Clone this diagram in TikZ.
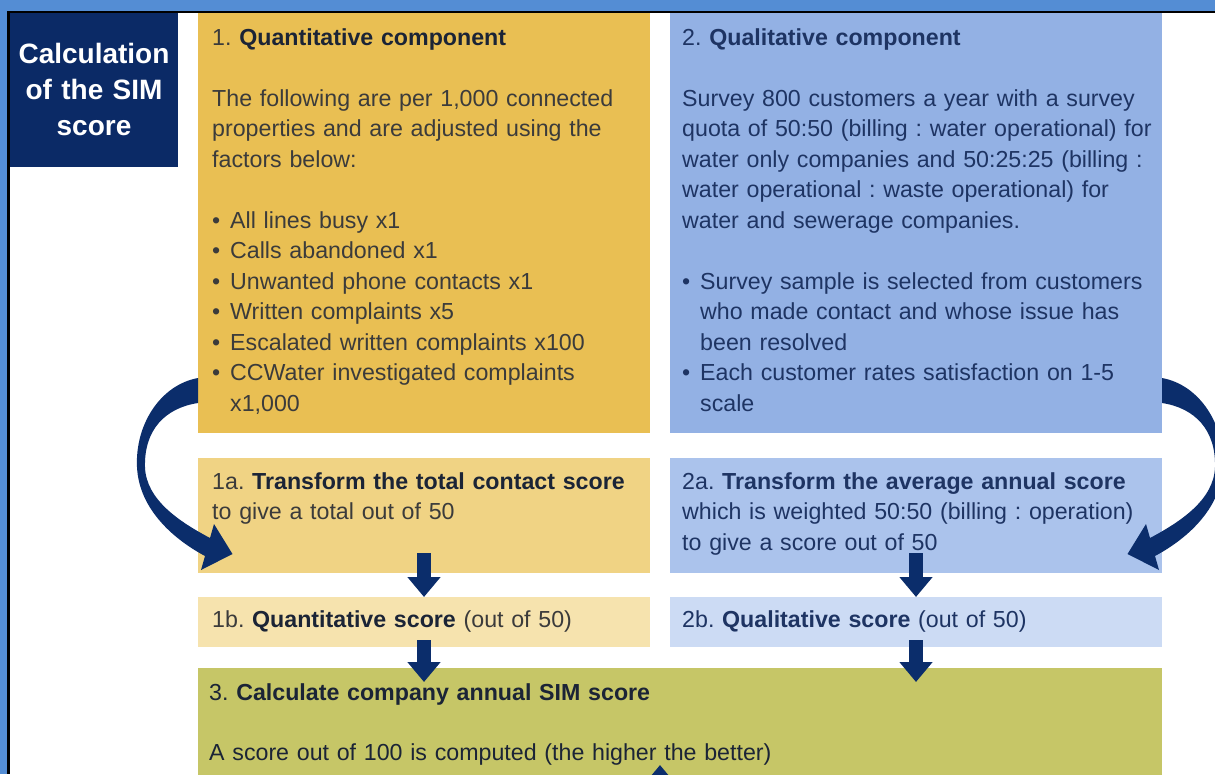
\documentclass[tikz,border=0pt]{standalone}
\usepackage{fontspec}
\setmainfont{Liberation Sans}
\usetikzlibrary{arrows.meta}
\definecolor{frameblue}{RGB}{84,141,212}
\definecolor{navy}{RGB}{11,42,102}
\definecolor{arrowc}{RGB}{11,45,107}
\definecolor{goldA}{RGB}{233,191,83}
\definecolor{goldB}{RGB}{240,211,132}
\definecolor{goldC}{RGB}{246,227,174}
\definecolor{blueA}{RGB}{147,177,228}
\definecolor{blueB}{RGB}{171,195,236}
\definecolor{blueC}{RGB}{204,219,244}
\definecolor{olive}{RGB}{198,198,103}
\definecolor{graytext}{RGB}{59,59,59}
\definecolor{darkhead}{RGB}{27,36,54}
\definecolor{bluetext}{RGB}{30,52,99}
\newcommand\bul{\makebox[18pt][l]{•}}
\begin{document}
\begin{tikzpicture}[x=1pt,y=-1pt,
  box/.style={anchor=north west, inner sep=0pt, outer sep=0pt, draw=none},
  txt/.style={anchor=base west, inner sep=0pt, align=left, text width=500pt,
    font=\fontsize{23.2}{30.5}\selectfont\frenchspacing},
  blockarr/.style={draw=arrowc, line width=14pt, -{Triangle[width=32pt,length=20pt]}}]
\useasboundingbox (0,0) rectangle (1215,774);
\clip (0,0) rectangle (1215,774);
\fill[white] (0,0) rectangle (1215,774);
% frame
\fill[frameblue] (0,0) rectangle (1215,11);
\fill[frameblue] (0,0) rectangle (7,774);
\fill[black] (7,11) rectangle (1215,13);
\fill[black] (7,11) rectangle (10,774);
% title
\node[box, fill=navy, minimum width=168pt, minimum height=154pt] (title) at (10,13) {};
\node[anchor=base, inner sep=0pt, text width=165pt, align=center, text=white,
  font=\fontsize{28}{36}\selectfont\bfseries] (titletext) at (94,63)
  {Calculation\\of the SIM\\score};
% boxes
\node[box, fill=goldA, minimum width=452pt, minimum height=420pt] (b1) at (198,13) {};
\node[box, fill=blueA, minimum width=492pt, minimum height=420pt] (b2) at (670,13) {};
\node[box, fill=goldB, minimum width=452pt, minimum height=115pt] (b1a) at (198,458) {};
\node[box, fill=blueB, minimum width=492pt, minimum height=115pt] (b2a) at (670,458) {};
\node[box, fill=goldC, minimum width=452pt, minimum height=50pt] (b1b) at (198,597) {};
\node[box, fill=blueC, minimum width=492pt, minimum height=50pt] (b2b) at (670,597) {};
\node[box, fill=olive, minimum width=964pt, minimum height=140pt] (b3) at (198,668) {};
% texts
\node[txt, text=graytext] (t1) at (212,45)
  {1. \textcolor{darkhead}{\bfseries Quantitative component}\\[30.5pt]
   The following are per 1,000 connected\\
   properties and are adjusted using the\\
   factors below:\\[30.5pt]
   \bul All lines busy x1\\
   \bul Calls abandoned x1\\
   \bul Unwanted phone contacts x1\\
   \bul Written complaints x5\\
   \bul Escalated written complaints x100\\
   \bul CCWater investigated complaints\\
   \hspace*{18pt}x1,000};
\node[txt, text=bluetext] (t2) at (682,45)
  {2. {\bfseries Qualitative component}\\[30.5pt]
   Survey 800 customers a year with a survey\\
   quota of 50:50 (billing : water operational) for\\
   water only companies and 50:25:25 (billing :\\
   water operational : waste operational) for\\
   water and sewerage companies.\\[30.5pt]
   \bul Survey sample is selected from customers\\
   \hspace*{18pt}who made contact and whose issue has\\
   \hspace*{18pt}been resolved\\
   \bul Each customer rates satisfaction on 1-5\\
   \hspace*{18pt}scale};
\node[txt, text=graytext] (t1a) at (212,489)
  {1a. \textcolor{darkhead}{\bfseries Transform the total contact score}\\
   to give a total out of 50};
\node[txt, text=bluetext] (t2a) at (682,489)
  {2a. {\bfseries Transform the average annual score}\\
   which is weighted 50:50 (billing : operation)\\
   to give a score out of 50};
\node[txt, text=graytext] (t1b) at (212,627)
  {1b. \textcolor{darkhead}{\bfseries Quantitative score} (out of 50)};
\node[txt, text=bluetext] (t2b) at (682,627)
  {2b. {\bfseries Qualitative score} (out of 50)};
\node[txt, text=darkhead, text width=900pt] (t3) at (209,700)
  {3. {\bfseries Calculate company annual SIM score}\\[30pt]
   A score out of 100 is computed (the higher the better)};
% straight block arrows
\draw[blockarr] ([yshift=20pt]b1a.south) -- (b1b.north);
\draw[blockarr] ([yshift=20pt]b2a.south) -- (b2b.north);
\draw[blockarr] ([yshift=7pt]b1b.south) -- ([yshift=-14pt]b3.north -| b1b.south);
\draw[blockarr] ([yshift=7pt]b2b.south) -- ([yshift=-14pt]b3.north -| b2b.south);
\coordinate (upstart) at (660,800);
\coordinate (uptip) at (660,765);
\draw[blockarr] (upstart) -- (uptip);
% curved arrows
\def\curvedarrow{(198,378) .. controls (160,385) and (135,425) .. (137,467)
  .. controls (139,510) and (175,540) .. (205,556) -- (201,570) -- (232.5,554)
  -- (214,524) -- (210,538) .. controls (180,522) and (146,500) .. (145,467)
  .. controls (144,430) and (165,408) .. (198,403) -- cycle}
\fill[arrowc] \curvedarrow;
\begin{scope}[shift={(1360,0)}, xscale=-1]
\fill[arrowc] \curvedarrow;
\end{scope}
\end{tikzpicture}
\end{document}
